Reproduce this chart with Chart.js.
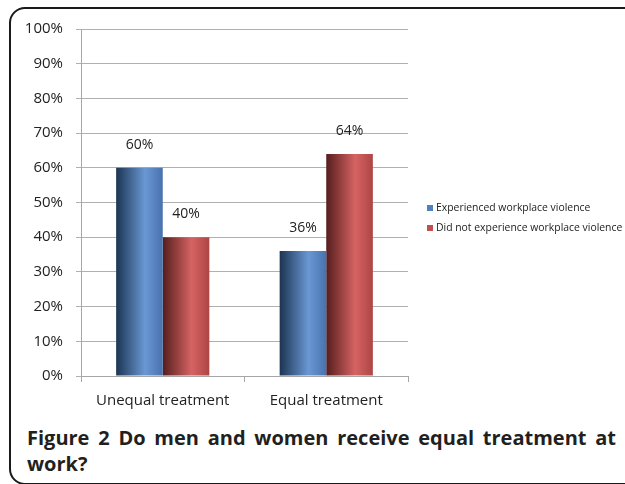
<!DOCTYPE html>
<html>
<head>
<meta charset="utf-8">
<script src="https://cdn.jsdelivr.net/npm/chart.js@4.4.1/dist/chart.umd.min.js"></script>
<style>
  html, body { margin: 0; padding: 0; background: #fff; width: 625px; height: 484px; overflow: hidden; }
  #frame { position: absolute; left: 9px; top: 7px; width: 660px; height: 474px; border: 2px solid #1a1a1a; border-radius: 16px; }
  #wrap { position: absolute; left: 0; top: 0; width: 625px; height: 420px; }
  .cap { position: absolute; left: 27px; width: 589px; font-family: "Open Sans", sans-serif; font-weight: 700; font-size: 20px; color: #231f20; white-space: nowrap; }
  #cap1 { top: 424px; text-align: justify; text-align-last: justify; }
  #cap2 { top: 450px; }
</style>
</head>
<body>
<div id="frame"></div>
<div id="wrap"><canvas id="myChart"></canvas></div>
<div class="cap" id="cap1">Figure 2 Do men and women receive equal treatment at</div>
<div class="cap" id="cap2">work?</div>
<script>
var categories = ['Unequal treatment', 'Equal treatment'];
var seriesNames = ['Experienced workplace violence', 'Did not experience workplace violence'];
var experienced = [60, 36];
var notExperienced = [40, 64];
var yTicks = [0, 10, 20, 30, 40, 50, 60, 70, 80, 90, 100];

var catPct = 0.57;
// dark edge, light stripe, right edge
var shades = [
    ['#1b3452', '#6a98d4', '#4872ad'],
    ['#561d1d', '#d66363', '#ad4545']
];
var flatColors = ['#4f81bd', '#c0504d'];

function barFill(context) {
    var chart = context.chart;
    var x = chart.scales.x;
    if (!chart.chartArea || !x || context.dataIndex === undefined) {
        return flatColors[context.datasetIndex];
    }
    var center = x.getPixelForValue(context.dataIndex);
    var groupW = (x.right - x.left) / categories.length * catPct;
    var barW = groupW / 2;
    var left = center - groupW / 2 + context.datasetIndex * barW;
    var g = chart.ctx.createLinearGradient(left, 0, left + barW, 0);
    var s = shades[context.datasetIndex];
    g.addColorStop(0, s[0]);
    g.addColorStop(0.62, s[1]);
    g.addColorStop(1, s[2]);
    return g;
}

var labelsAndLegend = {
    id: 'labelsAndLegend',
    afterDatasetsDraw: function(chart) {
        var ctx = chart.ctx;
        ctx.save();
        ctx.fillStyle = '#222';
        ctx.font = '14px "Open Sans"';
        ctx.textAlign = 'center';
        ctx.textBaseline = 'middle';
        chart.data.datasets.forEach(function(ds, i) {
            chart.getDatasetMeta(i).data.forEach(function(bar, j) {
                ctx.fillText(ds.data[j] + '%', bar.x, bar.y - 23);
            });
        });
        // legend
        ctx.font = '10.4px "Open Sans"';
        ctx.textAlign = 'left';
        var ys = [208, 228];
        seriesNames.forEach(function(name, i) {
            ctx.fillStyle = flatColors[i];
            ctx.fillRect(427, ys[i] - 3, 6, 6);
            ctx.fillStyle = '#222';
            ctx.fillText(name, 436, ys[i]);
        });
        ctx.restore();
    }
};

var ctx = document.getElementById('myChart').getContext('2d');

var myChart = new Chart(ctx, {
    type: 'bar',
    data: {
        labels: categories,
        datasets: [{
            label: seriesNames[0],
            data: experienced,
            backgroundColor: barFill,
            borderWidth: 0
        }, {
            label: seriesNames[1],
            data: notExperienced,
            backgroundColor: barFill,
            borderWidth: 0
        }]
    },
    options: {
        responsive: true,
        maintainAspectRatio: false,
        animation: false,
        categoryPercentage: catPct,
        barPercentage: 1,
        layout: { padding: { top: 29, right: 217, bottom: 0, left: 0 } },
        plugins: {
            legend: { display: false },
            tooltip: { enabled: false }
        },
        scales: {
            x: {
                grid: { offset: true, drawOnChartArea: false, drawTicks: true, tickLength: 6, color: '#a6a6a6' },
                border: { color: '#a6a6a6' },
                ticks: { color: '#222', font: { family: 'Open Sans', size: 15 }, padding: 10 },
                afterFit: function(scale) { scale.height = 44; }
            },
            y: {
                min: 0,
                max: 100,
                afterBuildTicks: function(scale) {
                    scale.ticks = yTicks.map(function(v) { return { value: v }; });
                },
                grid: { color: '#b0b0b0', tickLength: 5 },
                border: { color: '#a6a6a6' },
                ticks: {
                    color: '#222',
                    font: { family: 'Open Sans', size: 15 },
                    padding: 13,
                    callback: function(v) { return v + '%'; }
                },
                afterFit: function(scale) { scale.width = 81; }
            }
        }
    },
    plugins: [labelsAndLegend]
});
</script>
</body>
</html>
